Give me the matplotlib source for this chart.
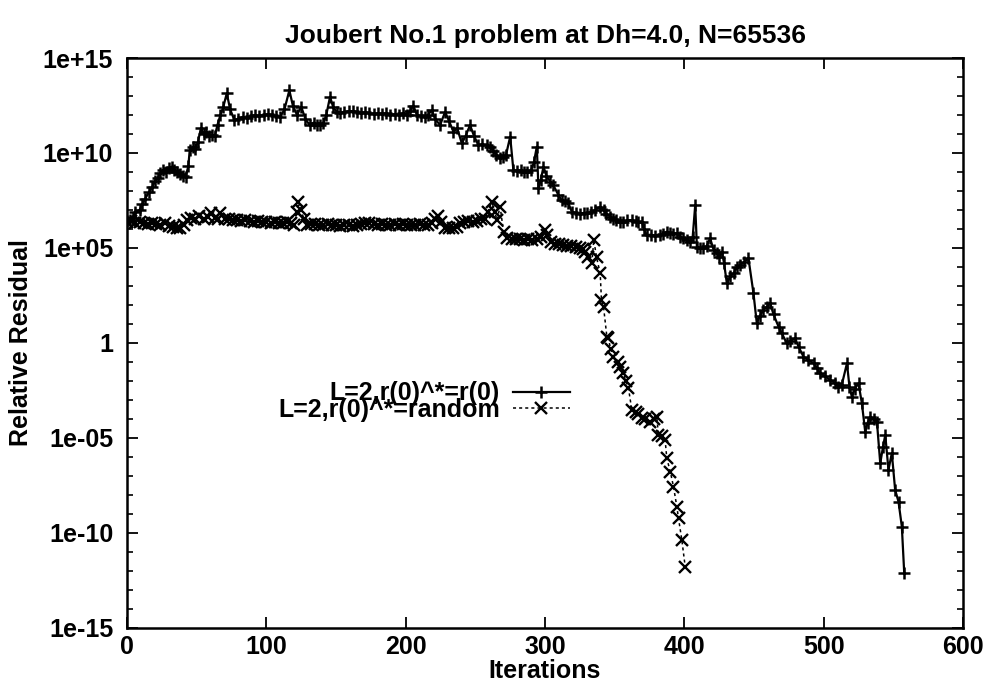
import numpy as np
import matplotlib
matplotlib.use("Agg")
import matplotlib.pyplot as plt
from matplotlib.ticker import FixedLocator, FixedFormatter, NullLocator, NullFormatter

plt.rcParams['font.family'] = ['Liberation Sans', 'DejaVu Sans']
plt.rcParams['font.weight'] = 'bold'
plt.rcParams['axes.titleweight'] = 'bold'
plt.rcParams['axes.labelweight'] = 'bold'

title = "Joubert No.1 problem at Dh=4.0, N=65536"
xlabel = "Iterations"
ylabel = "Relative Residual"
label1 = "L=2,r(0)^*=r(0)"
label2 = "L=2,r(0)^*=random"

# Series 1: L=2, r(0)^* = r(0)   (iteration, log10 of relative residual)
it1 = [0, 2, 4, 6, 9, 11, 13, 16, 18, 20, 22, 24, 26, 28, 30, 32, 34, 36, 38, 40,
       42, 44, 45, 47, 49, 51, 53, 55, 57, 59, 61, 63, 65, 67, 69, 71.6, 74, 77, 80, 83,
       86, 89, 92, 95, 98, 101, 104, 107, 110, 113, 116.5, 119, 122, 125, 128, 131, 134, 136, 138.5, 141,
       143, 145.7, 148, 150.5, 153, 156, 159, 162, 165, 168, 171, 174, 177, 180, 183, 186, 189, 192, 195, 198,
       201, 203, 205.5, 208, 211, 214, 216, 218.7, 221, 224.7, 228.3, 231, 234.3, 237, 240.3, 243, 246.2, 249, 252.2, 255,
       258, 260.6, 263, 265, 267.8, 270, 272, 275, 277.3, 280, 283, 285, 287, 290, 292, 294.1, 295.3, 297, 298.9, 301,
       303.7, 306, 309.6, 312, 314, 316.8, 319.2, 322, 325, 328, 330, 333, 336, 339.6, 342, 344, 346.7, 349, 351, 353.9,
       356, 359, 362.3, 365, 367, 369.5, 371, 373, 376, 379, 382.6, 385, 387.4, 390, 392, 394.6, 397, 399, 401.8, 404,
       406, 407.8, 409, 411, 413.7, 416, 418.5, 421, 423.3, 425, 426.9, 428.5, 430.5, 433, 435.3, 438, 440, 443, 446, 449.6,
       452, 454, 456.8, 459, 461.6, 464, 467.6, 470, 473.6, 476, 479.5, 482, 485.5, 489, 492.7, 495, 497.5, 501, 504.7, 508,
       510.6, 513, 516.7, 518.5, 520.2, 522.5, 525, 527.4, 529.8, 531.5, 533.4, 536, 538.2, 540.6, 542.5, 544.2, 546.5, 548.9, 551.3, 553.7,
       556.1, 557.8]
lg1 = [6.4, 6.47, 6.6, 6.9, 7.0, 7.3, 7.6, 7.96, 8.2, 8.5, 8.7, 8.95, 9.1, 9.0, 9.2, 9.28, 9.1, 9.0, 8.9, 8.8,
       8.75, 9.3, 10.16, 10.3, 10.2, 10.6, 11.3, 11.0, 11.1, 10.9, 10.95, 10.9, 11.5, 12.0, 12.4, 13.14, 12.3, 11.74, 11.8, 11.9,
       11.85, 11.95, 12.0, 11.95, 12.0, 12.05, 12.0, 11.95, 11.9, 12.3, 13.3, 12.5, 12.0, 12.44, 11.8, 11.47, 11.6, 11.5, 11.47, 11.6,
       12.0, 12.96, 12.4, 12.17, 12.1, 12.15, 12.2, 12.2, 12.15, 12.1, 12.15, 12.1, 12.05, 12.1, 12.05, 12.1, 12.0, 12.05, 12.0, 12.1,
       12.0, 12.2, 12.5, 12.0, 11.95, 11.9, 12.0, 12.26, 11.8, 11.47, 12.17, 11.7, 11.12, 11.3, 10.5, 10.9, 11.47, 10.9, 10.42, 10.45,
       10.4, 10.33, 10.1, 9.9, 9.72, 9.8, 9.9, 10.86, 9.1, 9.05, 9.1, 9.0, 9.02, 9.1, 9.5, 10.33, 8.14, 8.6, 9.28, 8.8,
       8.49, 8.3, 7.79, 7.5, 7.45, 7.35, 6.91, 6.85, 6.8, 6.85, 6.82, 6.9, 7.0, 7.17, 7.0, 6.8, 6.65, 6.55, 6.45, 6.38,
       6.35, 6.45, 6.47, 6.4, 6.35, 6.38, 6.0, 5.68, 5.7, 5.65, 5.68, 5.75, 5.86, 5.8, 5.75, 5.77, 5.6, 5.5, 5.42, 5.3,
       5.6, 7.26, 5.07, 5.0, 4.98, 5.1, 5.51, 4.9, 4.72, 4.5, 4.81, 4.2, 3.14, 3.5, 3.67, 4.0, 4.1, 4.25, 4.46, 2.62,
       1.04, 1.4, 1.74, 1.9, 2.09, 1.5, 0.86, 0.5, -0.02, 0.1, 0.25, -0.2, -0.72, -0.9, -1.07, -1.3, -1.6, -1.75, -1.95, -2.1,
       -2.3, -2.2, -1.07, -2.3, -2.83, -2.4, -2.12, -3.17, -4.67, -4.2, -3.88, -4.0, -4.14, -6.33, -5.5, -4.84, -6.68, -5.8, -7.74, -8.35,
       -9.67, -12.1]

# Series 2: L=2, r(0)^* = random
it2 = [0, 3, 6, 9, 12, 15, 18, 21, 24, 27, 30, 33, 36, 38, 41, 43, 46, 49, 52, 55,
       58, 60, 63, 65, 67, 70, 73, 76, 79, 82, 85, 88, 91, 94, 97, 100, 103, 106, 109, 112,
       115, 118, 120, 122, 123, 125, 127, 129, 132, 135, 138, 141, 144, 147, 150, 153, 156, 159, 162, 165,
       168, 171, 174, 177, 180, 183, 186, 189, 192, 195, 198, 201, 204, 207, 210, 213, 216, 219, 221, 223,
       225, 228, 231, 234, 237, 239, 242, 245, 248, 251, 254, 257, 259, 261.8, 264, 265.4, 267.8, 270.2, 273, 276,
       279, 282, 285, 288, 291, 294, 297, 300, 301.5, 304, 307, 310, 313, 316, 319, 322, 325, 327, 328.8, 331,
       333.6, 335, 337, 339.6, 340.5, 342, 344.4, 345.5, 347, 349.1, 352.7, 354, 356.3, 358, 359.9, 362.3, 365, 367, 369.5, 372,
       375.5, 378, 380.2, 381.4, 384, 386.2, 387.4, 390, 392.2, 394.6, 395.8, 398.2, 400.6]
lg2 = [6.35, 6.4, 6.3, 6.35, 6.3, 6.25, 6.3, 6.25, 6.2, 6.3, 6.15, 6.1, 6.05, 6.05, 6.2, 6.45, 6.6, 6.5, 6.7, 6.55,
       6.65, 6.84, 6.6, 6.55, 6.84, 6.5, 6.5, 6.45, 6.45, 6.4, 6.45, 6.4, 6.35, 6.4, 6.35, 6.35, 6.3, 6.35, 6.3, 6.3,
       6.35, 6.3, 6.2, 6.9, 7.4, 7.0, 6.5, 6.2, 6.25, 6.25, 6.2, 6.2, 6.25, 6.2, 6.2, 6.15, 6.2, 6.2, 6.15, 6.2,
       6.25, 6.3, 6.3, 6.25, 6.2, 6.25, 6.2, 6.2, 6.25, 6.2, 6.25, 6.2, 6.2, 6.2, 6.25, 6.2, 6.2, 6.3, 6.5, 6.7,
       6.35, 6.05, 6.05, 6.05, 6.1, 6.3, 6.35, 6.4, 6.35, 6.4, 6.5, 6.55, 6.9, 7.44, 6.9, 6.47, 7.17, 5.86, 5.5, 5.45,
       5.45, 5.45, 5.4, 5.45, 5.4, 5.45, 5.6, 5.95, 5.68, 5.3, 5.2, 5.2, 5.15, 5.1, 5.1, 5.05, 5.0, 4.95, 4.81, 4.5,
       4.19, 5.42, 4.5, 3.67, 2.26, 1.9, 0.33, 0.25, -0.3, -0.72, -0.98, -1.25, -1.6, -2.0, -2.38, -3.53, -3.65, -3.75, -3.96, -4.0,
       -4.14, -4.0, -3.88, -4.84, -4.9, -5.1, -6.07, -6.8, -7.56, -8.61, -9.23, -10.37, -11.77]

xticks = [0, 100, 200, 300, 400, 500, 600]
ytick_exps = [-15, -10, -5, 0, 5, 10, 15]
ytick_labels = ["1e-15", "1e-10", "1e-05", "1", "1e+05", "1e+10", "1e+15"]

res1 = np.power(10.0, lg1)
res2 = np.power(10.0, lg2)

fig = plt.figure(figsize=(9.87, 6.84), dpi=100)
ax = fig.add_axes([0.1287, 0.0819, 0.8470, 0.8333])

ax.plot(it1, res1, color='black', lw=1.6, marker='+', ms=9, mew=1.8, label=label1)
ax.plot(it2, res2, color='black', lw=1.1, ls=(0, (2.0, 2.0)), marker='x', ms=8, mew=1.7,
        label=label2)

ax.set_yscale('log')
ax.set_xlim(0, 600)
ax.set_ylim(1e-15, 1e15)
ax.xaxis.set_major_locator(FixedLocator(xticks))
ax.xaxis.set_minor_locator(NullLocator())
ax.yaxis.set_major_locator(FixedLocator([10.0 ** e for e in ytick_exps]))
ax.yaxis.set_major_formatter(FixedFormatter(ytick_labels))
ax.yaxis.set_minor_locator(FixedLocator([10.0 ** e for e in range(-15, 16)]))
ax.yaxis.set_minor_formatter(NullFormatter())

for s in ax.spines.values():
    s.set_linewidth(1.8)

ax.tick_params(which='major', direction='in', top=True, right=True, length=8, width=1.3,
               labelsize=18)
ax.tick_params(axis='y', which='major', pad=10)
ax.tick_params(axis='x', which='major', pad=5)
ax.tick_params(which='minor', direction='in', top=False, right=True, length=4, width=1.2)

ax.set_title(title, fontsize=19, pad=11)
ax.set_xlabel(xlabel, fontsize=18, labelpad=0)
ax.set_ylabel(ylabel, fontsize=18, labelpad=7)

leg = ax.legend(loc='center right', bbox_to_anchor=(0.53, 0.397), frameon=False,
                markerfirst=False, fontsize=18, labelspacing=-0.3, handlelength=2.3,
                handletextpad=0.5, borderpad=0, borderaxespad=0)

fig.savefig('out.png', dpi=100)
